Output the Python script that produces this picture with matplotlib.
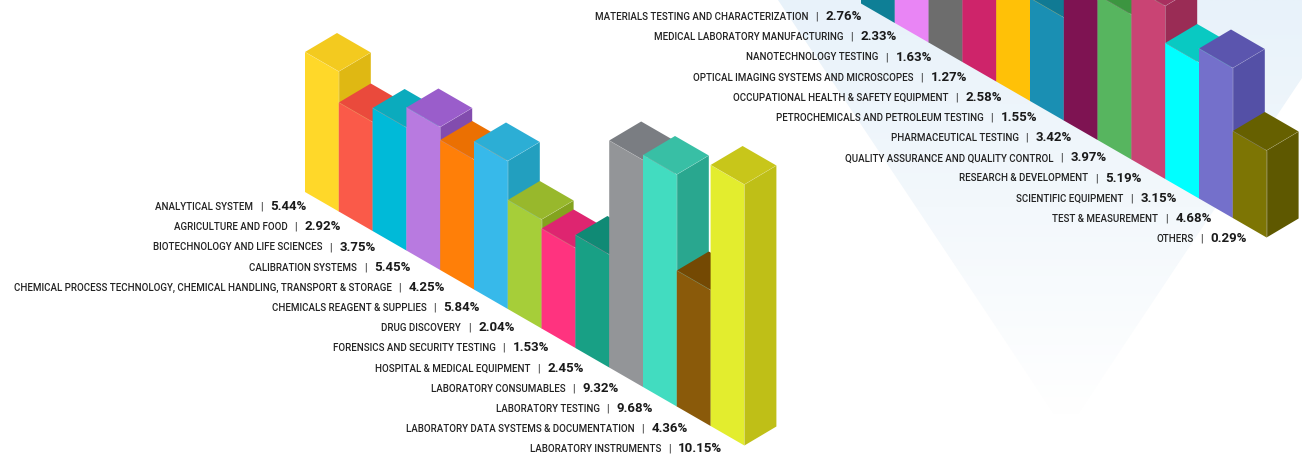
import matplotlib
matplotlib.use('Agg')
import matplotlib.pyplot as plt
from matplotlib.colors import LinearSegmentedColormap
from matplotlib.patches import Polygon
from matplotlib.transforms import Affine2D
import numpy as np

# Left block
left_labels = ['ANALYTICAL SYSTEM', 'AGRICULTURE AND FOOD', 'BIOTECHNOLOGY AND LIFE SCIENCES',
               'CALIBRATION SYSTEMS', 'CHEMICAL PROCESS TECHNOLOGY, CHEMICAL HANDLING, TRANSPORT & STORAGE',
               'CHEMICALS REAGENT & SUPPLIES', 'DRUG DISCOVERY', 'FORENSICS AND SECURITY TESTING',
               'HOSPITAL & MEDICAL EQUIPMENT', 'LABORATORY CONSUMABLES', 'LABORATORY TESTING',
               'LABORATORY DATA SYSTEMS & DOCUMENTATION', 'LABORATORY INSTRUMENTS']
left_values = ['5.44%', '2.92%', '3.75%', '5.45%', '4.25%', '5.84%', '2.04%', '1.53%', '2.45%',
               '9.32%', '9.68%', '4.36%', '10.15%']
# bar heights as drawn, the picture does not scale them linearly with the percentages
left_heights = [140, 109, 123, 143, 130, 148, 109, 100, 113, 227, 232, 136, 261]
left_front = ['#FFD829', '#FA5A49', '#00BAD8', '#B87AE0', '#FF7F08', '#37B9EA', '#A6CE39',
              '#FF337F', '#18A085', '#939598', '#42DCC0', '#8A5A0A', '#E3ED2E']
left_top = ['#F3CA1F', '#EA4A3C', '#0BABBD', '#9A5DCB', '#EB7002', '#2CAED5', '#98B82C',
            '#DE2570', '#108A75', '#7A7D82', '#38BFA5', '#744903', '#C8C61A']
left_side = ['#DFB813', '#D8402F', '#0A9AB0', '#824CAE', '#D86600', '#229FBF', '#84A31E',
             '#C41E62', '#0E7A66', '#6C6E72', '#29A78F', '#633E02', '#BFBF17']

# Right block, runs off the top of the image
right_labels = ['MATERIALS TESTING AND CHARACTERIZATION', 'MEDICAL LABORATORY MANUFACTURING',
                'NANOTECHNOLOGY TESTING', 'OPTICAL IMAGING SYSTEMS AND MICROSCOPES',
                'OCCUPATIONAL HEALTH & SAFETY EQUIPMENT', 'PETROCHEMICALS AND PETROLEUM TESTING',
                'PHARMACEUTICAL TESTING', 'QUALITY ASSURANCE AND QUALITY CONTROL',
                'RESEARCH & DEVELOPMENT', 'SCIENTIFIC EQUIPMENT', 'TEST & MEASUREMENT', 'OTHERS']
right_values = ['2.76%', '2.33%', '1.63%', '1.27%', '2.58%', '1.55%', '3.42%', '3.97%', '5.19%',
                '3.15%', '4.68%', '0.29%']
right_heights = [120, 120, 120, 110, 115, 103, 140, 145, 173, 136, 150, 87]
right_front = ['#0E7F96', '#E985F5', '#6D6D6D', '#CE246A', '#FFC107', '#1A8FB3', '#7E1352',
               '#57B55F', '#C94474', '#00FFFF', '#7470CB', '#7D7504']
right_top = ['#0A6A7E', '#D070DC', '#5C5C5C', '#B01D5A', '#E0A800', '#107A94', '#6A0F45',
             '#3C9540', '#A8305F', '#09C9C2', '#5B55AE', '#666000']
right_side = ['#0A6A7E', '#C066CC', '#555555', '#A01A50', '#D09C00', '#0E6E86', '#5E0D3D',
              '#358A3A', '#9A2C55', '#08B5AE', '#5450A6', '#5E5800']

DX, DY = 33.8, 19.5      # one category along the floor
WX, WY = 32.0, -19.0     # depth of a bar


def draw_bars(ax, x0, y0, heights, front, top, side):
    # category index and height -> picture position
    shear = Affine2D.from_values(DX, DY, 0, -1, x0, y0) + ax.transData
    for i, h in enumerate(heights):
        xl, yl = x0 + DX * i, y0 + DY * i - h
        xr, yr = xl + DX, yl + DY
        ax.bar(i, h, width=1, align='edge', color=front[i], edgecolor='none', transform=shear, zorder=2 + i)
        ax.add_patch(Polygon([(xr, yr), (xr + WX, yr + WY), (xr + WX, yr + WY + h), (xr, yr + h)],
                             fc=side[i], ec='none', zorder=2 + i))
        ax.add_patch(Polygon([(xl, yl), (xr, yr), (xr + WX, yr + WY), (xl + WX, yl + WY)],
                             fc=top[i], ec='none', zorder=2 + i))
        # faint light seams between the faces
        ax.plot([xl, xr, xr + WX], [yl, yr, yr + WY], color='white', alpha=0.2, lw=0.5, zorder=2 + i)
        ax.plot([xr, xr], [yr, yr + h], color='white', alpha=0.2, lw=0.5, zorder=2 + i)


def draw_labels(ax, fig, end0, step, y0, ystep, labels, values):
    r = fig.canvas.get_renderer()
    for i, (lab, val) in enumerate(zip(labels, values)):
        y = y0 + ystep * i
        t = ax.text(end0 + step * i, y, val, ha='right', va='center', fontsize=9.5,
                    fontweight='bold', color='#1a1a1a', family='Roboto', zorder=30)
        left = ax.transData.inverted().transform(t.get_window_extent(r))[0][0]
        ax.text(left - 9, y, '|', ha='center', va='center', fontsize=7.5, color='#1a1a1a',
                family='Roboto', zorder=30)
        ax.text(left - 17, y + 0.3, lab, ha='right', va='center', fontsize=7.0, fontweight='medium',
                color='#222222', family='Roboto', zorder=30)


fig = plt.figure(figsize=(13.02, 4.58), dpi=100)
ax = fig.add_axes([0, 0, 1, 1])
ax.set_xlim(0, 1302)
ax.set_ylim(458, 0)
ax.set_autoscale_on(False)
ax.axis('off')

# pale funnel behind the right block
cmap = LinearSegmentedColormap.from_list('fade', ['#E8F2FA', '#F3F8FC', '#FFFFFF'])
grad = np.linspace(0, 1, 256).reshape(-1, 1)
im = ax.imshow(grad, extent=[760, 1302, 415, 0], cmap=cmap, aspect='auto', zorder=0)
funnel = Polygon([(778, 0), (1066, 432), (1354, 0)], transform=ax.transData, fc='none', ec='none')
ax.add_patch(funnel)
im.set_clip_path(funnel)

draw_bars(ax, 305, 192, left_heights, left_front, left_top, left_side)
draw_bars(ax, 861, 3.5, right_heights, right_front, right_top, right_side)

draw_labels(ax, fig, 306.5, 34.67, 206.8, 20.17, left_labels, left_values)
draw_labels(ax, fig, 862, 35.0, 16.8, 20.17, right_labels, right_values)

ax.set_xlim(0, 1302)
ax.set_ylim(458, 0)
fig.savefig('out.png', dpi=100)
